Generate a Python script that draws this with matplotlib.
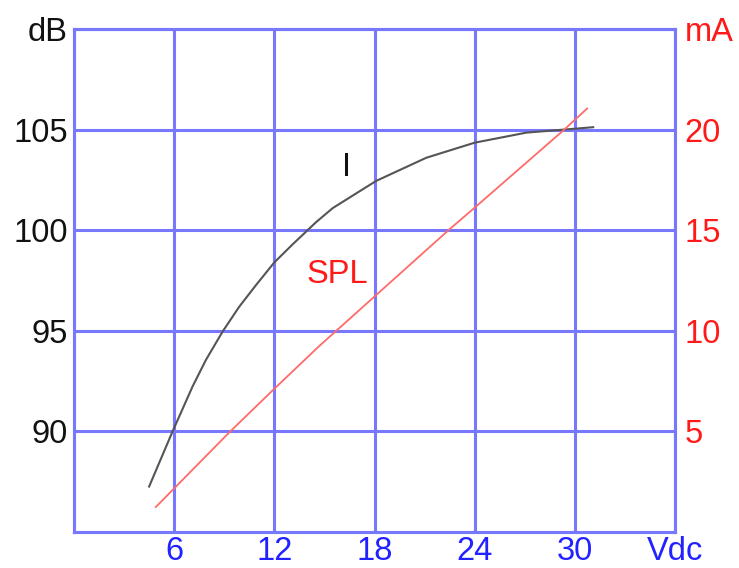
import matplotlib.pyplot as plt

plt.rcParams['font.family'] = ['Liberation Sans', 'DejaVu Sans']

# black curve, read against the left (dB) scale
i_volts = [4.5, 5.9, 7.1, 7.9, 8.9, 9.9, 10.9, 12.0, 13.1, 14.5, 15.5,
           18.1, 21.1, 24.0, 27.1, 30.1, 31.1]
i_db = [87.26, 89.99, 92.23, 93.55, 94.96, 96.2, 97.27, 98.4, 99.3,
        100.4, 101.1, 102.45, 103.6, 104.35, 104.85, 105.05, 105.12]

# red line, read against the right (mA) scale
spl_volts = [4.9, 9.3, 12.0, 14.7, 22.5, 24.0, 29.3, 30.74]
spl_ma = [1.24, 4.95, 7.12, 9.25, 15.05, 16.12, 19.95, 21.05]

x_ticks = [6, 12, 18, 24, 30, 36]
x_labels = ['6', '12', '18', '24', '30', 'Vdc']
db_ticks = [90, 95, 100, 105, 110]
db_labels = ['90', '95', '100', '105', 'dB']
ma_ticks = [5, 10, 15, 20, 25]
ma_labels = ['5', '10', '15', '20', 'mA']

grid_blue = '#7878ff'
fs = 23.5

fig = plt.figure(figsize=(7.39, 5.68), dpi=100)
ax = fig.add_axes([74 / 739, 1 - 532 / 568, (675 - 74) / 739, (532 - 29) / 568])
ax2 = ax.twinx()

ax.set_xlim(0, 36)
ax.set_ylim(85, 110)
ax2.set_ylim(0, 25)

ax.set_xticks(x_ticks)
ax.set_xticklabels(x_labels, color='#2222ff', fontsize=fs)
ax.set_yticks(db_ticks)
ax.set_yticklabels(db_labels, color='#111111', fontsize=fs)
ax2.set_yticks(ma_ticks)
ax2.set_yticklabels(ma_labels, color='#ff1a1a', fontsize=fs)

ax.tick_params(axis='both', length=0)
ax.tick_params(axis='x', pad=3)
ax.tick_params(axis='y', pad=4.5)
ax2.tick_params(axis='y', length=0, pad=7)

ax.grid(True, color=grid_blue, lw=2.2)
ax.set_axisbelow(True)
for a in (ax, ax2):
    for s in a.spines.values():
        s.set_color(grid_blue)
        s.set_linewidth(2.2)

ax.plot(i_volts, i_db, color='#555555', lw=1.5, zorder=3, solid_joinstyle='round')
ax2.plot(spl_volts, spl_ma, color='#ff6a6a', lw=1.3, zorder=3)

ax.text(16.3, 103.1, 'I', fontsize=fs, color='#111111', ha='center', va='center')
ax.text(15.8, 97.8, 'SPL', fontsize=fs, color='#ff1a1a', ha='center', va='center')

fig.savefig('out.png', dpi=100)
